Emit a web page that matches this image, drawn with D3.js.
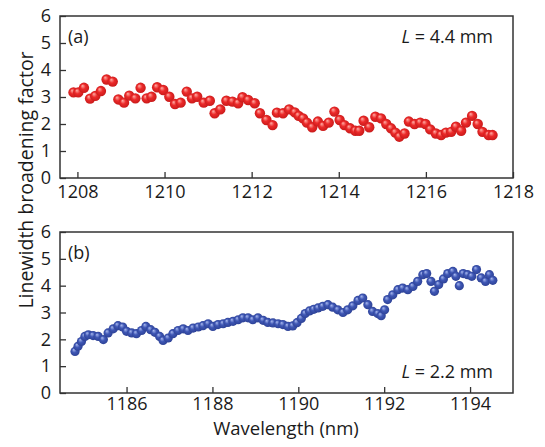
<!DOCTYPE html>
<html>
<head>
<meta charset="utf-8">
<script src="https://cdn.jsdelivr.net/npm/d3@7"></script>
<style>
  body { margin: 0; background: #fff; }
  text { font-family: "Open Sans", sans-serif; fill: #1a1a1a; }
</style>
</head>
<body>
<div id="chart"></div>
<script>
// panel (a), L = 4.4 mm
var waveA = [1207.91, 1208.02, 1208.15, 1208.29, 1208.41, 1208.54, 1208.67, 1208.81, 1208.94, 1209.07,
  1209.19, 1209.33, 1209.45, 1209.59, 1209.70, 1209.83, 1209.97, 1210.11, 1210.24, 1210.37,
  1210.51, 1210.63, 1210.75, 1210.90, 1211.04, 1211.15, 1211.28, 1211.42, 1211.56, 1211.69,
  1211.79, 1211.92, 1212.07, 1212.19, 1212.34, 1212.48, 1212.58, 1212.72, 1212.86, 1212.99,
  1213.08, 1213.18, 1213.27, 1213.39, 1213.52, 1213.64, 1213.77, 1213.90, 1214.02, 1214.13,
  1214.26, 1214.38, 1214.47, 1214.57, 1214.70, 1214.84, 1214.97, 1215.09, 1215.20, 1215.30,
  1215.39, 1215.51, 1215.61, 1215.74, 1215.87, 1215.99, 1216.10, 1216.23, 1216.35, 1216.46,
  1216.58, 1216.69, 1216.81, 1216.92, 1217.06, 1217.19, 1217.30, 1217.44, 1217.53];
var factorA = [3.17, 3.17, 3.34, 2.94, 3.04, 3.22, 3.65, 3.57, 2.91, 2.79,
  3.05, 2.95, 3.34, 2.95, 3.01, 3.36, 3.26, 3.01, 2.74, 2.79,
  3.20, 2.95, 3.01, 2.79, 2.86, 2.40, 2.54, 2.86, 2.83, 2.77,
  2.99, 2.89, 2.77, 2.40, 2.15, 1.96, 2.42, 2.40, 2.54, 2.43,
  2.30, 2.21, 2.05, 1.88, 2.09, 1.93, 2.05, 2.46, 2.15, 1.96,
  1.84, 1.75, 1.75, 2.12, 1.88, 2.27, 2.21, 2.00, 1.84, 1.68,
  1.53, 1.65, 2.09, 2.00, 2.05, 2.00, 1.80, 1.65, 1.59, 1.68,
  1.71, 1.90, 1.75, 2.05, 2.30, 2.00, 1.71, 1.59, 1.59];

// panel (b), L = 2.2 mm
var waveB = [1184.80, 1184.87, 1184.95, 1185.03, 1185.11, 1185.22, 1185.34, 1185.46, 1185.57, 1185.69,
  1185.80, 1185.91, 1186.00, 1186.12, 1186.23, 1186.35, 1186.45, 1186.56, 1186.66, 1186.77,
  1186.85, 1186.97, 1187.08, 1187.20, 1187.32, 1187.43, 1187.55, 1187.67, 1187.78, 1187.90,
  1188.01, 1188.13, 1188.25, 1188.36, 1188.48, 1188.60, 1188.71, 1188.83, 1188.94, 1189.06,
  1189.18, 1189.29, 1189.41, 1189.53, 1189.64, 1189.76, 1189.87, 1189.97, 1190.07, 1190.16,
  1190.26, 1190.36, 1190.46, 1190.57, 1190.69, 1190.80, 1190.92, 1191.04, 1191.15, 1191.27,
  1191.39, 1191.50, 1191.62, 1191.73, 1191.85, 1191.93, 1192.01, 1192.08, 1192.20, 1192.32,
  1192.43, 1192.55, 1192.67, 1192.78, 1192.90, 1192.99, 1193.09, 1193.17, 1193.27, 1193.38,
  1193.48, 1193.60, 1193.67, 1193.75, 1193.84, 1193.94, 1194.04, 1194.15, 1194.26, 1194.36,
  1194.45, 1194.53];
var factorB = [1.55, 1.74, 1.92, 2.11, 2.17, 2.14, 2.11, 1.99, 2.24, 2.39,
  2.51, 2.46, 2.30, 2.24, 2.21, 2.33, 2.48, 2.36, 2.26, 2.11,
  1.96, 2.05, 2.21, 2.33, 2.39, 2.33, 2.42, 2.46, 2.51, 2.58,
  2.48, 2.55, 2.58, 2.63, 2.67, 2.73, 2.80, 2.80, 2.73, 2.80,
  2.71, 2.63, 2.61, 2.58, 2.55, 2.48, 2.50, 2.62, 2.78, 2.96,
  3.06, 3.12, 3.17, 3.23, 3.29, 3.20, 3.10, 3.00, 3.10, 3.25,
  3.45, 3.54, 3.29, 3.04, 2.96, 2.88, 3.10, 3.48, 3.66, 3.85,
  3.91, 3.85, 3.97, 4.16, 4.41, 4.45, 4.16, 3.79, 4.04, 4.25,
  4.45, 4.53, 4.35, 4.00, 4.45, 4.41, 4.35, 4.60, 4.29, 4.16,
  4.41, 4.20];

var ticksA = [1208, 1210, 1212, 1214, 1216, 1218];
var ticksB = [1186, 1188, 1190, 1192, 1194];
var ticksY = [0, 1, 2, 3, 4, 5, 6];

var W = 545, H = 447;
var svg = d3.select("#chart").append("svg").attr("width", W).attr("height", H);

// glossy ball gradients
var defs = svg.append("defs");
function ball(id, hi, mid, edge) {
  var g = defs.append("radialGradient").attr("id", id)
      .attr("cx", "50%").attr("cy", "50%").attr("r", "55%")
      .attr("fx", "35%").attr("fy", "30%");
  g.append("stop").attr("offset", "0%").attr("stop-color", hi);
  g.append("stop").attr("offset", "45%").attr("stop-color", mid);
  g.append("stop").attr("offset", "100%").attr("stop-color", edge);
}
ball("redBall", "#ffb0a8", "#ec2a2a", "#c41818");
ball("blueBall", "#a9b9ee", "#3f57b5", "#2b3f92");

function panel(o) {
  var x = d3.scaleLinear().domain(o.xDomain).range([60, 513]);
  var y = d3.scaleLinear().domain([0, 6]).range([o.bottom, o.top]);
  var g = svg.append("g");

  // ticks point inward
  var xa = g.append("g").attr("transform", "translate(0," + o.bottom + ")")
      .call(d3.axisBottom(x).tickValues(o.ticks).tickSize(-6).tickPadding(o.pad).tickFormat(d3.format("d")));
  xa.select(".domain").remove();
  xa.selectAll("line").attr("stroke", "#333").attr("stroke-width", 1.3);
  xa.selectAll("text").style("font-size", "18px").attr("fill", "#1a1a1a");

  var ya = g.append("g").attr("transform", "translate(60,0)")
      .call(d3.axisLeft(y).tickValues(ticksY).tickSize(-6).tickPadding(9).tickFormat(d3.format("d")));
  ya.select(".domain").remove();
  ya.selectAll("line").attr("stroke", "#333").attr("stroke-width", 1.3);
  ya.selectAll("text").style("font-size", "18px").attr("fill", "#1a1a1a");

  g.selectAll("circle.pt")
    .data(d3.zip(o.xs, o.ys))
    .enter().append("circle")
      .attr("class", "pt")
      .attr("cx", function (d) { return x(d[0]); })
      .attr("cy", function (d) { return y(d[1]); })
      .attr("r", o.r)
      .attr("fill", "url(#" + o.grad + ")");

  g.append("rect")
    .attr("x", 60).attr("y", o.top)
    .attr("width", 453).attr("height", o.bottom - o.top)
    .attr("fill", "none").attr("stroke", "#333").attr("stroke-width", 1.5);

  g.append("text").attr("x", 68).attr("y", o.top + 27)
    .style("font-size", "18px").text(o.tag);

  var lab = g.append("text").attr("x", 493).attr("y", o.labelY)
    .attr("text-anchor", "end").style("font-size", "18px");
  lab.append("tspan").style("font-style", "italic").text("L");
  lab.append("tspan").text(" = " + o.len + " mm");
}

panel({ xDomain: [1207.6, 1218], top: 16, bottom: 178, ticks: ticksA, pad: 7,
        xs: waveA, ys: factorA, r: 5.2, grad: "redBall", tag: "(a)", len: "4.4", labelY: 43 });
panel({ xDomain: [1184.45, 1195], top: 232, bottom: 393, ticks: ticksB, pad: 4,
        xs: waveB, ys: factorB, r: 4.6, grad: "blueBall", tag: "(b)", len: "2.2", labelY: 378 });

svg.append("text")
  .attr("transform", "translate(33,180) rotate(-90)")
  .attr("text-anchor", "middle")
  .style("font-size", "19.5px")
  .text("Linewidth broadening factor");

svg.append("text")
  .attr("x", 286).attr("y", 435)
  .attr("text-anchor", "middle")
  .style("font-size", "18.5px")
  .text("Wavelength (nm)");
</script>
</body>
</html>
